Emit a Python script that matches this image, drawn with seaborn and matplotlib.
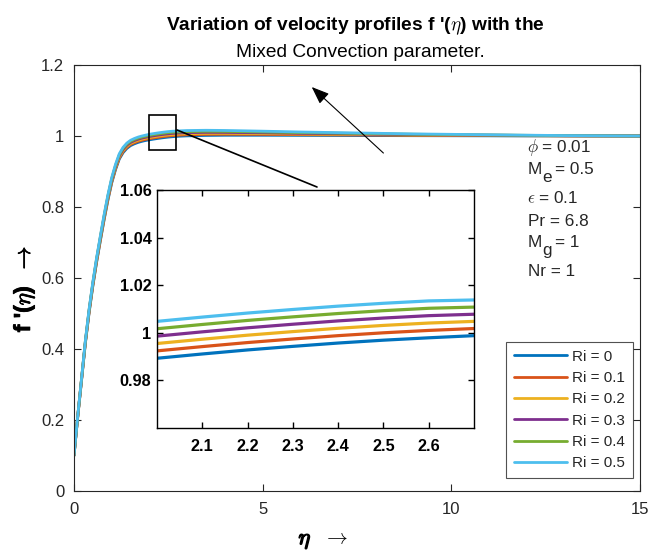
import matplotlib
matplotlib.use("Agg")
import numpy as np
import pandas as pd
import seaborn as sns
import matplotlib.pyplot as plt
from matplotlib.lines import Line2D
from matplotlib.patches import Rectangle
import matplotlib.patheffects as pe

# ---------------- data ----------------
eta = [0, 0.1, 0.2, 0.3, 0.4, 0.5, 0.6, 0.7, 0.8, 0.9, 1.0, 1.1, 1.2, 1.3, 1.4,
       1.5, 1.6, 1.7, 1.8, 1.9, 2.0, 2.1, 2.2, 2.3, 2.4, 2.5, 2.6, 2.7, 2.8, 3.0,
       3.5, 4.0, 5.0, 6.0, 7.0, 8.0, 9.0, 10.0, 11.0, 12.0, 13.0, 14.0, 15.0]

f_ri_0 = [0.1000, 0.2100, 0.3120, 0.4150, 0.5020, 0.5780, 0.6450, 0.7060, 0.7650, 0.8200,
          0.8680, 0.9050, 0.9350, 0.9530, 0.9650, 0.9730, 0.9780, 0.9820, 0.9850, 0.9875,
          0.9893, 0.9911, 0.9928, 0.9943, 0.9957, 0.9969, 0.9979, 0.9988, 0.9995, 1.0004,
          1.0016, 1.0021, 1.0021, 1.0018, 1.0015, 1.0012, 1.0009, 1.0007, 1.0005, 1.0003,
          1.0002, 1.0001, 1.0000]
f_ri_1 = [0.1000, 0.2105, 0.3130, 0.4165, 0.5040, 0.5802, 0.6475, 0.7087, 0.7679, 0.8230,
          0.8710, 0.9080, 0.9380, 0.9560, 0.9680, 0.9760, 0.9810, 0.9850, 0.9880, 0.9905,
          0.9924, 0.9942, 0.9959, 0.9974, 0.9988, 1.0000, 1.0010, 1.0018, 1.0025, 1.0034,
          1.0045, 1.0048, 1.0044, 1.0037, 1.0031, 1.0025, 1.0019, 1.0015, 1.0011, 1.0007,
          1.0004, 1.0002, 1.0000]
f_ri_2 = [0.1000, 0.2110, 0.3140, 0.4180, 0.5060, 0.5824, 0.6500, 0.7114, 0.7708, 0.8260,
          0.8740, 0.9110, 0.9410, 0.9590, 0.9710, 0.9790, 0.9840, 0.9880, 0.9910, 0.9935,
          0.9955, 0.9973, 0.9990, 1.0005, 1.0019, 1.0031, 1.0041, 1.0048, 1.0055, 1.0064,
          1.0074, 1.0075, 1.0067, 1.0056, 1.0047, 1.0038, 1.0029, 1.0023, 1.0017, 1.0011,
          1.0006, 1.0003, 1.0000]
f_ri_3 = [0.1000, 0.2115, 0.3150, 0.4195, 0.5080, 0.5846, 0.6525, 0.7141, 0.7737, 0.8290,
          0.8770, 0.9140, 0.9440, 0.9620, 0.9740, 0.9820, 0.9870, 0.9910, 0.9940, 0.9965,
          0.9986, 1.0004, 1.0021, 1.0036, 1.0050, 1.0062, 1.0072, 1.0078, 1.0085, 1.0094,
          1.0103, 1.0102, 1.0090, 1.0075, 1.0063, 1.0051, 1.0039, 1.0031, 1.0023, 1.0015,
          1.0008, 1.0004, 1.0000]
f_ri_4 = [0.1000, 0.2120, 0.3160, 0.4210, 0.5100, 0.5868, 0.6550, 0.7168, 0.7766, 0.8320,
          0.8800, 0.9170, 0.9470, 0.9650, 0.9770, 0.9850, 0.9900, 0.9940, 0.9970, 0.9995,
          1.0017, 1.0035, 1.0052, 1.0067, 1.0081, 1.0093, 1.0103, 1.0108, 1.0115, 1.0124,
          1.0132, 1.0129, 1.0113, 1.0094, 1.0079, 1.0064, 1.0049, 1.0039, 1.0029, 1.0019,
          1.0010, 1.0005, 1.0000]
f_ri_5 = [0.1000, 0.2125, 0.3170, 0.4225, 0.5120, 0.5890, 0.6575, 0.7195, 0.7795, 0.8350,
          0.8830, 0.9200, 0.9500, 0.9680, 0.9800, 0.9880, 0.9930, 0.9970, 1.0000, 1.0025,
          1.0048, 1.0066, 1.0083, 1.0098, 1.0112, 1.0124, 1.0134, 1.0138, 1.0145, 1.0154,
          1.0161, 1.0156, 1.0136, 1.0113, 1.0095, 1.0077, 1.0059, 1.0047, 1.0035, 1.0023,
          1.0012, 1.0006, 1.0000]

ri_labels = ["Ri = 0", "Ri = 0.1", "Ri = 0.2", "Ri = 0.3", "Ri = 0.4", "Ri = 0.5"]
series = [f_ri_0, f_ri_1, f_ri_2, f_ri_3, f_ri_4, f_ri_5]
colors = ["#0072BD", "#D95319", "#EDB120", "#7E2F8E", "#77AC30", "#4DBEEE"]

x_ticks = [0, 5, 10, 15]
y_ticks = [0, 0.2, 0.4, 0.6, 0.8, 1.0, 1.2]
y_ticklabels = ["0", "0.2", "0.4", "0.6", "0.8", "1", "1.2"]

inset_xlim = (2.0, 2.7)
inset_ylim = (0.96, 1.06)
inset_xticks = [2.1, 2.2, 2.3, 2.4, 2.5, 2.6]
inset_yticks = [0.98, 1.0, 1.02, 1.04, 1.06]
inset_yticklabels = ["0.98", "1", "1.02", "1.04", "1.06"]

# ---------------- build long table ----------------
rows = []
for lab, vals in zip(ri_labels, series):
    for e, v in zip(eta, vals):
        rows.append({"eta": e, "f": v, "Ri": lab})
df = pd.DataFrame(rows)

# ---------------- style ----------------
sns.set_theme(style="ticks")
plt.rcParams["font.family"] = ["Liberation Sans", "DejaVu Sans"]
plt.rcParams["mathtext.fontset"] = "cm"

W, H = 652, 550
fig = plt.figure(figsize=(W / 100, H / 100), dpi=100)
fig.patch.set_facecolor("white")

def fx(px):
    return px / W

def fy(py):
    return 1 - py / H

# ---------------- main axes ----------------
ax = fig.add_axes([fx(74), fy(491), (640 - 74) / W, (491 - 65) / H])
sns.lineplot(data=df, x="eta", y="f", hue="Ri", hue_order=ri_labels,
             palette=colors, lw=2.0, ax=ax, legend=False)
ax.set_xlim(0, 15)
ax.set_ylim(0, 1.2)
ax.set_xticks(x_ticks)
ax.set_yticks(y_ticks)
ax.set_yticklabels(y_ticklabels)
ax.set_xlabel("")
ax.set_ylabel("")
ax.tick_params(direction="in", length=5, width=0.8, top=True, right=True,
               labelsize=12, colors="#262626")
ax.tick_params(axis="x", pad=8)
ax.tick_params(axis="y", pad=7)
for s in ax.spines.values():
    s.set_color("#262626")
    s.set_linewidth(0.8)

# zoom rectangle
ax.add_patch(Rectangle((inset_xlim[0], inset_ylim[0]),
                       inset_xlim[1] - inset_xlim[0], inset_ylim[1] - inset_ylim[0],
                       fill=False, ec="black", lw=1.2, zorder=5))

# arrow
ax.annotate("", xy=(6.3, 1.138), xytext=(8.2, 0.952),
            arrowprops=dict(arrowstyle="-|>,head_length=0.9,head_width=0.35",
                            color="black", lw=0.8, shrinkA=0, shrinkB=0))

# legend
handles = [Line2D([0], [0], color=c, lw=2.0) for c in colors]
leg = ax.legend(handles, ri_labels, loc="lower right",
                bbox_to_anchor=((633 - 74) / 566, (491 - 478) / 426),
                borderaxespad=0, fontsize=11, frameon=True, fancybox=False,
                handlelength=3.5, handletextpad=0.35, labelspacing=0.48,
                borderpad=0.5)
leg.get_frame().set_edgecolor("#262626")
leg.get_frame().set_linewidth(0.8)

# ---------------- inset ----------------
axin = fig.add_axes([fx(157), fy(428), (474 - 157) / W, (428 - 190) / H])
sns.lineplot(data=df, x="eta", y="f", hue="Ri", hue_order=ri_labels,
             palette=colors, lw=2.3, ax=axin, legend=False)
axin.set_xlim(*inset_xlim)
axin.set_ylim(*inset_ylim)
axin.set_xticks(inset_xticks)
axin.set_yticks(inset_yticks)
axin.set_yticklabels(inset_yticklabels)
axin.set_xlabel("")
axin.set_ylabel("")
axin.set_facecolor("white")
axin.tick_params(direction="in", length=4, width=1.0, top=True, right=True,
                 labelsize=11.7, colors="black")
axin.tick_params(axis="x", pad=8)
axin.tick_params(axis="y", pad=4)
for lab in axin.get_xticklabels() + axin.get_yticklabels():
    lab.set_fontweight("bold")
for s in axin.spines.values():
    s.set_color("black")
    s.set_linewidth(1.0)

# connector line from the rectangle to the inset
fig.add_artist(Line2D([fx(177), fx(317)], [fy(130), fy(187)], color="black", lw=1.2))

# ---------------- texts ----------------
fig.text(fx(355), fy(30), r"Variation of velocity profiles f '($\eta$) with the",
         ha="center", va="baseline", fontsize=13.8, fontweight="bold", color="black")
fig.text(fx(360), fy(57.3), "Mixed Convection parameter.",
         ha="center", va="baseline", fontsize=13.8, color="black")

fig.text(fx(24), fy(246), r"f '($\eta$)  $\rightarrow$", rotation=90,
         ha="center", va="top", fontsize=16.5, fontweight="bold", color="black",
         path_effects=[pe.withStroke(linewidth=0.6, foreground="black")])

fig.text(fx(305), fy(541), r"$\eta$", ha="center", va="center", fontsize=16,
         color="black", path_effects=[pe.withStroke(linewidth=1.0, foreground="black")])
fig.text(fx(336), fy(539), r"$\rightarrow$", ha="center", va="center", fontsize=15,
         color="black")

# parameter block
pfs = 12.3
fig.text(fx(527), fy(151.7), r"$\phi$ = 0.01", fontsize=pfs, va="baseline")
fig.text(fx(528), fy(174), "M", fontsize=pfs, va="baseline")
fig.text(fx(542.5), fy(182), "e", fontsize=pfs, va="baseline")
fig.text(fx(555), fy(174), "= 0.5", fontsize=pfs, va="baseline")
fig.text(fx(527), fy(203.3), r"$\epsilon$ = 0.1", fontsize=pfs, va="baseline")
fig.text(fx(528), fy(225.7), "Pr = 6.8", fontsize=pfs, va="baseline")
fig.text(fx(528), fy(246.7), "M", fontsize=pfs, va="baseline")
fig.text(fx(542.5), fy(255.4), "g", fontsize=pfs, va="baseline")
fig.text(fx(555), fy(246.7), "= 1", fontsize=pfs, va="baseline")
fig.text(fx(528), fy(276), "Nr = 1", fontsize=pfs, va="baseline")

fig.savefig("out.png", dpi=100)
